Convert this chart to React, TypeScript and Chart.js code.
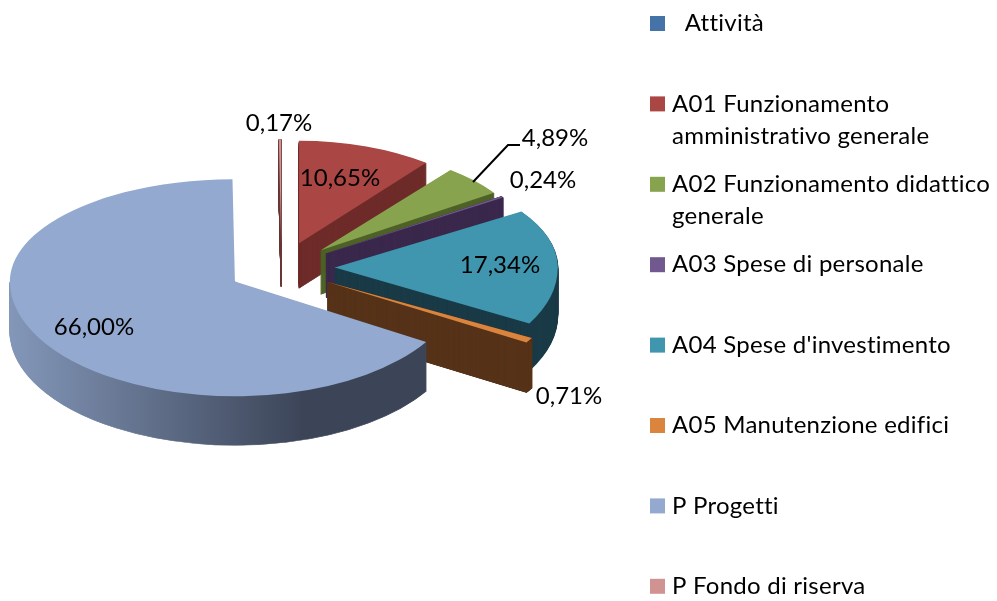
import React, { useEffect, useRef } from "react";
import { Chart, registerables } from "chart.js";

Chart.register(...registerables);

const categories = [
  "  Attività",
  "A01 Funzionamento amministrativo generale",
  "A02 Funzionamento didattico generale",
  "A03 Spese di personale",
  "A04 Spese d'investimento",
  "A05 Manutenzione edifici",
  "P Progetti",
  "P Fondo di riserva",
];
const shares = [0, 10.65, 4.89, 0.24, 17.34, 0.71, 66.0, 0.17];
const shareLabels = ["", "10,65%", "4,89%", "0,24%", "17,34%", "0,71%", "66,00%", "0,17%"];
const faceColors = ["#4572a7", "#aa4644", "#87a34d", "#71588f", "#4096ae", "#db843d", "#93a9cf", "#d19392"];
const wallColors = ["#2a4565", "#6e2c2a", "#4f6228", "#3c2a4e", "#1a3b47", "#57341a", "", "#6b3a3a"];

// layout of the 3-D look (not data)
const FONT = "Lato";
const CX = 281.5;
const CY = 268.4;
const EXPLODE = 53.5;
const K_MID = 0.5;
const K_BACK = 0.455;
const K_FRONT = 0.51;
const paintOrder = [7, 1, 2, 3, 4, 5, 6];
const depths = [0, 45, 44, 44, 47, 50, 49, 45];
const xScales = [1, 0.91, 0.93, 0.94, 0.99, 1.04, 1, 1];
const wallSteps = [1, 1, 1, 0.25, 1, 0.25, 1, 0.25];
const PROGETTI = 6;
const labelAt: [number, number][] = [
  [0, 0],
  [340, 178],
  [555, 138],
  [543, 180],
  [500, 265],
  [569, 396],
  [94, 327],
  [279, 123],
];

const pie3d = {
  id: "pie3d",
  beforeDatasetsDraw(chart: any) {
    const ctx: CanvasRenderingContext2D = chart.ctx;
    const meta = chart.getDatasetMeta(0);

    paintOrder.forEach((i) => {
      const el = meta.data[i];
      if (!el || el.circumference === 0) return;
      const original = el.options;
      const mid = (el.startAngle + el.endAngle) / 2;
      const ax = CX + Math.cos(mid) * EXPLODE;
      const ay = CY + Math.sin(mid) * EXPLODE * K_MID;

      const paint = (z: number, fill: any, isWall: boolean) => {
        const o = Object.create(original);
        o.backgroundColor = fill;
        o.borderColor = fill;
        o.borderWidth = isWall ? 1.2 : 0;
        el.options = o;
        [
          [K_BACK, -700, ay + z + 0.5],
          [K_FRONT, ay + z - 0.5, 900],
        ].forEach(([k, y0, y1], pass) => {
          // the back half of the large slice has no visible wall
          if (isWall && i === PROGETTI && pass === 0) return;
          ctx.save();
          ctx.beginPath();
          ctx.rect(0, y0, chart.width, y1 - y0);
          ctx.clip();
          ctx.translate(ax, ay + z);
          ctx.scale(xScales[i], k);
          ctx.translate(-el.x, -el.y);
          el.draw(ctx);
          ctx.restore();
        });
        el.options = original;
      };

      let wall: any = wallColors[i];
      if (!wall) {
        const r = el.outerRadius;
        wall = ctx.createLinearGradient(el.x - r, 0, el.x + r * 0.3, 0);
        wall.addColorStop(0, "#8397b9");
        wall.addColorStop(1, "#3c4558");
      }
      for (let z = depths[i]; z > 0; z -= wallSteps[i]) paint(z, wall, true);
      paint(0, faceColors[i], false);
    });

    return false;
  },
  afterDraw(chart: any) {
    const ctx: any = chart.ctx;
    ctx.save();

    // leader line of the 4,89% label
    ctx.strokeStyle = "#000";
    ctx.lineWidth = 2;
    ctx.beginPath();
    ctx.moveTo(473, 182);
    ctx.lineTo(508, 145);
    ctx.lineTo(520, 145);
    ctx.stroke();

    // value labels
    ctx.fillStyle = "#000";
    ctx.font = `24px ${FONT}`;
    ctx.textAlign = "center";
    ctx.textBaseline = "middle";
    shareLabels.forEach((t, i) => {
      if (t) ctx.fillText(t, labelAt[i][0], labelAt[i][1]);
    });

    // legend
    ctx.textAlign = "left";
    ctx.letterSpacing = "0.25px";
    categories.forEach((c, i) => {
      const top = 16 + i * 80.4;
      ctx.fillStyle = faceColors[i];
      ctx.fillRect(650, top, 15, 15);
      ctx.fillStyle = "#000";
      const lines: string[] = [];
      let cur = "";
      c.split(" ").forEach((w, n) => {
        const next = n === 0 ? w : cur + " " + w;
        if (ctx.measureText(next).width > 325 && cur) {
          lines.push(cur);
          cur = w;
        } else cur = next;
      });
      lines.push(cur);
      lines.forEach((l, n) => ctx.fillText(l, 672, top + 7.5 + n * 32));
    });
    ctx.restore();
  },
};

export default function App() {
  const ref = useRef<HTMLCanvasElement>(null);
  useEffect(() => {
    document.body.style.margin = "0";
    document.body.style.overflow = "hidden";
    const chart = new Chart(ref.current as HTMLCanvasElement, {
      type: "pie",
      data: {
        labels: categories,
        datasets: [{ data: shares, backgroundColor: faceColors, borderWidth: 0 }],
      },
      options: {
        animation: false,
        responsive: false,
        layout: { padding: { left: 56, right: 491, top: 75, bottom: 76 } },
        plugins: { legend: { display: false }, tooltip: { enabled: false } },
      },
      plugins: [pie3d as any],
    });
    return () => chart.destroy();
  }, []);
  return <canvas ref={ref} width={997} height={601} style={{ display: "block" }} />;
}
